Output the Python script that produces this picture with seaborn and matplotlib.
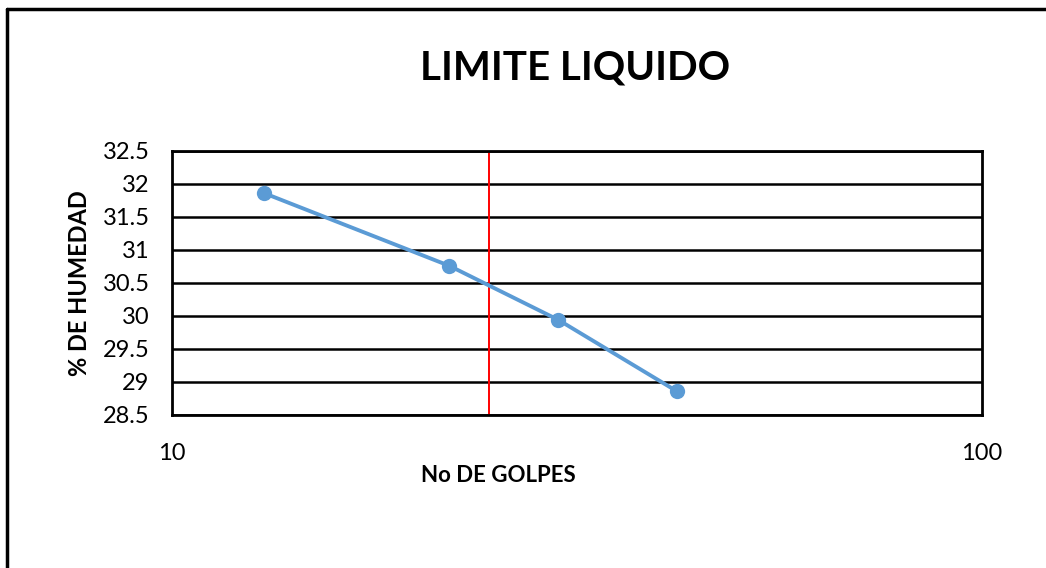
import seaborn as sns
from matplotlib import pyplot as plt
from matplotlib.ticker import FixedLocator, NullLocator
import pandas as pd

golpes = [13, 22, 30, 42]
humedad = [31.86, 30.76, 29.94, 28.86]
limite_golpes = 24.6
y_ticks = [28.5, 29, 29.5, 30, 30.5, 31, 31.5, 32, 32.5]

sns.set_style("white")
plt.rcParams['font.family'] = ['Lato', 'DejaVu Sans']
plt.rcParams['text.color'] = 'black'
plt.rcParams['axes.labelcolor'] = 'black'
plt.rcParams['xtick.color'] = 'black'
plt.rcParams['ytick.color'] = 'black'

data = pd.DataFrame({"golpes": golpes, "humedad": humedad})

fig = plt.figure(figsize=(10.46, 5.68), dpi=100)
ax = fig.add_axes([0.1644, 0.2694, 0.7744, 0.4648])

sns.lineplot(
    data=data,
    x="golpes",
    y="humedad",
    color="#5B9BD5",
    linewidth=2.8,
    marker="o",
    markersize=11,
    markeredgewidth=0,
    ax=ax,
)
ax.axvline(limite_golpes, color="#FF0000", linewidth=1.4, zorder=1)

ax.set_xscale("log")
ax.set_xlim(10, 100)
ax.set_ylim(28.5, 32.5)
ax.xaxis.set_major_locator(FixedLocator([10, 100]))
ax.xaxis.set_minor_locator(NullLocator())
ax.set_xticklabels(["10", "100"])
ax.set_yticks(y_ticks)
ax.set_yticklabels([f"{v:g}" for v in y_ticks])
ax.tick_params(axis="x", length=0, pad=20, labelsize=17)
ax.tick_params(axis="y", length=0, pad=16, labelsize=17)

ax.yaxis.grid(True, color="black", linewidth=1.8)
ax.xaxis.grid(False)
ax.set_axisbelow(True)
for s in ax.spines.values():
    s.set_color("black")
    s.set_linewidth(2)

ax.set_xlabel("No DE GOLPES", fontsize=16, fontweight="bold")
ax.xaxis.set_label_coords(0.4033, -0.19)
ax.set_ylabel("% DE HUMEDAD", fontsize=17, fontweight="bold")
ax.yaxis.set_label_coords(-0.100, 0.5)
fig.text(0.55, 0.88, "LIMITE LIQUIDO", fontsize=29, fontweight="bold",
         ha="center", va="center")

# outer chart frame (only left and top edges show in the reference)
fig.add_artist(plt.Line2D([0.0067, 0.0067], [0, 0.984], color="black", linewidth=2.5,
                          transform=fig.transFigure))
fig.add_artist(plt.Line2D([0.0067, 1], [0.984, 0.984], color="black", linewidth=2.5,
                          transform=fig.transFigure))

fig.savefig("out.png", dpi=100)
